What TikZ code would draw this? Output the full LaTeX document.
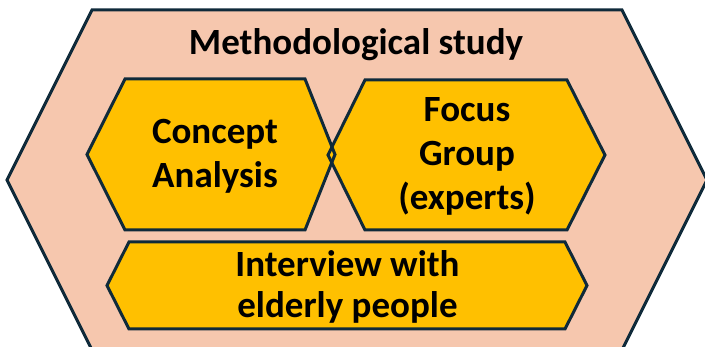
\documentclass[tikz,border=0pt]{standalone}
\usepackage{fontspec}
\setmainfont{Carlito}
\definecolor{salmon}{HTML}{F6C7AE}
\definecolor{gold}{HTML}{FFC000}
\definecolor{navy}{HTML}{0F2A3A}
\tikzset{
  hexline/.style={draw=navy, line width=3pt, line join=miter},
  outerhex/.style={hexline, fill=salmon},
  innerhex/.style={hexline, fill=gold},
  lbl/.style={font=\bfseries\fontsize{37}{44}\selectfont, align=center, inner sep=0pt, text=black},
  lbltight/.style={lbl, font=\bfseries\fontsize{37}{41}\selectfont}
}
\begin{document}
\begin{tikzpicture}[x=1pt, y=-1pt]
\useasboundingbox (0,0) rectangle (705,347);
\begin{scope}
\clip (0,0) rectangle (705,347);
% outer hexagon
\path[outerhex] (92,10) -- (622,10) -- (707,180) -- (622,350) -- (92,350) -- (7,180) -- cycle;
% inner hexagons: fills then outlines
\path[fill=gold] (125,79) -- (305,79) -- (335,154.5) -- (305,230) -- (125,230) -- (87,154.5) -- cycle;
\path[fill=gold] (365,80) -- (567,80) -- (605,155) -- (567,230) -- (365,230) -- (328,155) -- cycle;
\path[draw=navy, line width=3pt] (125,79) -- (305,79) -- (335,154.5) -- (305,230) -- (125,230) -- (87,154.5) -- cycle;
\path[draw=navy, line width=3pt] (365,80) -- (567,80) -- (605,155) -- (567,230) -- (365,230) -- (328,155) -- cycle;
\path[innerhex] (129,242) -- (565,242) -- (587,285.5) -- (565,329) -- (129,329) -- (107,285.5) -- cycle;
\end{scope}
% texts (anchor base = baseline of the last line)
\node[lbl, anchor=base] (title) at (356,55) {Methodological study};
\node[lbl, anchor=base] (concept) at (215,188) {Concept\\Analysis};
\node[lbl, anchor=base] (focus) at (467,210) {Focus\\Group\\(experts)};
\node[lbltight, anchor=base] (interview) at (347.5,318) {Interview with\\elderly people};
\end{tikzpicture}
\end{document}
